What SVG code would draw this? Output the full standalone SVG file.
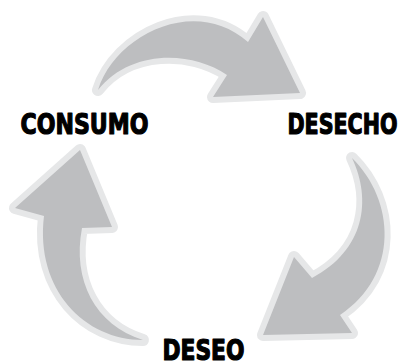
<svg xmlns="http://www.w3.org/2000/svg" width="404" height="362" viewBox="0 0 404 362">
<style>
.arrow{fill:#bdbec0;stroke:#e6e7e8;stroke-width:12;stroke-linejoin:round;paint-order:stroke}
.lbl{font-family:"Liberation Sans Narrow","DejaVu Sans Condensed","Liberation Sans",sans-serif;font-weight:700;font-size:29px;fill:#000;stroke:#000;stroke-width:1.2;stroke-linejoin:round}
</style>
<rect width="404" height="362" fill="#fff"/>
<g id="connectors">
<path class="arrow" d="M98,90 C115,35 195,-5 248,42 L263,17 L300,93 L213,97 L227,75 C190,50 130,50 98,90 Z"/>
<path class="arrow" d="M352,158 C395,200 400,275 340,315 L352,333 L263,335 L294,257 L312,278 C365,250 372,200 352,158 Z"/>
<path class="arrow" d="M80,150 L112,227 L82,228 C72,280 95,325 143,340 C85,340 35,290 44,216 L15,208 Z"/>
</g>
<g id="consumo"><text class="lbl" x="20.5" y="133.5" textLength="128" lengthAdjust="spacingAndGlyphs">CONSUMO</text></g>
<g id="desecho"><text class="lbl" x="287.5" y="133.5" textLength="110" lengthAdjust="spacingAndGlyphs">DESECHO</text></g>
<g id="deseo"><text class="lbl" x="162.5" y="359.5" textLength="82" lengthAdjust="spacingAndGlyphs">DESEO</text></g>
</svg>
